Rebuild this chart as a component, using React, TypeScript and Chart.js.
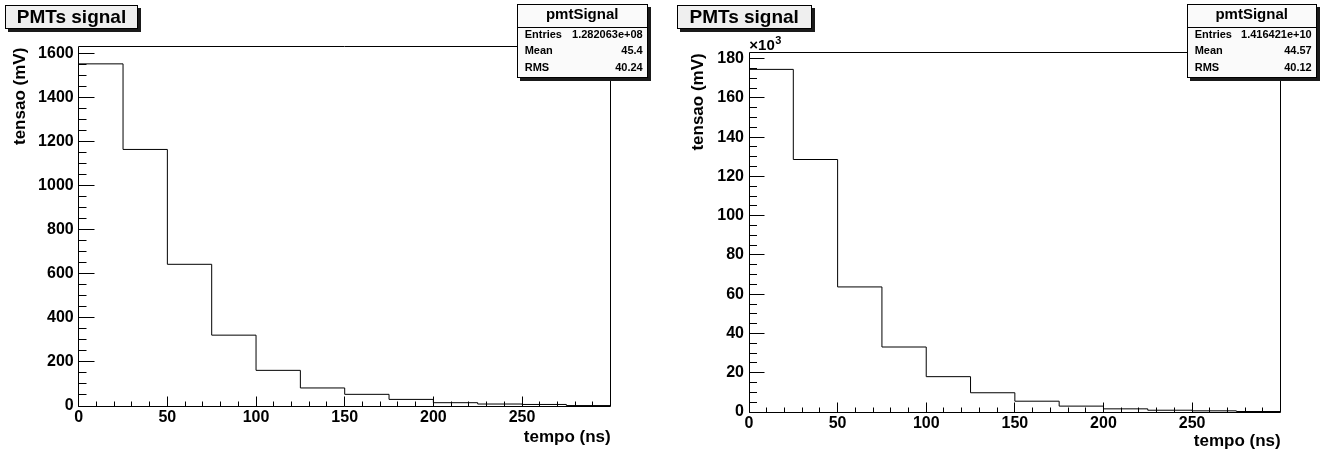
import React, { useEffect, useRef } from "react";
import { Chart, registerables } from "chart.js";

Chart.register(...registerables);

// ---------- data ----------
const binEdges = [0, 25, 50, 75, 100, 125, 150, 175, 200, 225, 250, 275, 300];
const leftValues = [1555, 1166, 644, 322, 162, 82, 53, 30, 15, 9, 7, 2];
// right panel values in units of 10^3 mV
const rightValues = [174.5, 128.6, 63.7, 33.1, 18.0, 9.8, 5.5, 3.0, 1.6, 0.9, 0.6, 0.25];
const xTicks = [0, 50, 100, 150, 200, 250];
const leftYTicks = [0, 200, 400, 600, 800, 1000, 1200, 1400, 1600];
const rightYTicks = [0, 20, 40, 60, 80, 100, 120, 140, 160, 180];
const leftYMax = 1633;
const rightYMax = 183.2;
const xMax = 300;
const histTitle = "PMTs signal";
const statsName = "pmtSignal";
const leftStats = [
  ["Entries", "1.282063e+08"],
  ["Mean", "45.4"],
  ["RMS", "40.24"],
];
const rightStats = [
  ["Entries", "1.416421e+10"],
  ["Mean", "44.57"],
  ["RMS", "40.12"],
];
const xTitle = "tempo (ns)";
const yTitle = "tensao (mV)";

const FONT = '"Liberation Sans", Arial, Helvetica, sans-serif';
const W = 663;
const H = 453;

type PanelCfg = {
  offset: number;
  values: number[];
  yTicks: number[];
  yMax: number;
  yMinor: number;
  stats: string[][];
  area: { l: number; r: number; t: number; b: number };
  yMajorLen: number;
  yMinorLen: number;
  yTitleX: number;
  xTitleY: number;
  titleBox: { x: number; y: number; w: number; h: number };
  statsBox: { x: number; y: number; w: number };
  exponent: boolean;
};

const panels: PanelCfg[] = [
  {
    offset: 0,
    values: leftValues,
    yTicks: leftYTicks,
    yMax: leftYMax,
    yMinor: 50,
    stats: leftStats,
    area: { l: 78.7, r: 610.7, t: 46.7, b: 406 },
    yMajorLen: 16,
    yMinorLen: 8,
    yTitleX: 20,
    xTitleY: 437,
    titleBox: { x: 5, y: 5, w: 133, h: 24 },
    statsBox: { x: 516.7, y: 4, w: 131 },
    exponent: false,
  },
  {
    offset: 663,
    values: rightValues,
    yTicks: rightYTicks,
    yMax: rightYMax,
    yMinor: 5,
    stats: rightStats,
    area: { l: 86, r: 617.7, t: 52.3, b: 412 },
    yMajorLen: 15,
    yMinorLen: 7.5,
    yTitleX: 35,
    xTitleY: 441,
    titleBox: { x: 13.7, y: 5, w: 135, h: 24 },
    statsBox: { x: 523.7, y: 4, w: 130 },
    exponent: true,
  },
];

const snap = (v: number) => Math.floor(v) + 0.5;

function makePlugin(cfg: PanelCfg) {
  return {
    id: "rootFrame",
    afterDraw(chart: any) {
      const { ctx, chartArea: a, scales } = chart;
      const x = scales.x;
      const y = scales.y;
      ctx.save();
      ctx.strokeStyle = "#000";
      ctx.lineWidth = 1;
      const L = snap(a.left);
      const R = snap(a.right);
      const T = snap(a.top);
      const B = snap(a.bottom);
      ctx.beginPath();
      ctx.rect(L, T, R - L, B - T);
      ctx.stroke();

      ctx.beginPath();
      // x ticks
      for (let v = 0; v < xMax; v += 10) {
        const px = snap(x.getPixelForValue(v));
        const len = v % 50 === 0 ? 10 : 5;
        ctx.moveTo(px, B);
        ctx.lineTo(px, B - len);
      }
      // y ticks
      for (let v = 0; v <= cfg.yMax; v += cfg.yMinor) {
        const py = snap(y.getPixelForValue(v));
        const major = cfg.yTicks.includes(v);
        const len = major ? cfg.yMajorLen : cfg.yMinorLen;
        ctx.moveTo(L, py);
        ctx.lineTo(L + len, py);
      }
      ctx.stroke();

      // axis titles
      ctx.fillStyle = "#000";
      ctx.font = `bold 17px ${FONT}`;
      ctx.textAlign = "right";
      ctx.textBaseline = "middle";
      ctx.fillText(xTitle, a.right, cfg.xTitleY);

      ctx.save();
      ctx.translate(cfg.yTitleX, a.top + 1);
      ctx.rotate(-Math.PI / 2);
      ctx.textAlign = "right";
      ctx.textBaseline = "middle";
      ctx.fillText(yTitle, 0, 0);
      ctx.restore();

      if (cfg.exponent) {
        ctx.textAlign = "left";
        ctx.textBaseline = "alphabetic";
        ctx.font = `bold 15px ${FONT}`;
        const sx = a.left + 0.3;
        ctx.fillText("\u00d710", sx, a.top - 2);
        const w = ctx.measureText("\u00d710").width;
        ctx.font = `bold 11px ${FONT}`;
        ctx.fillText("3", sx + w + 0.5, a.top - 8);
      }
      ctx.restore();
    },
  };
}

function Panel({ cfg }: { cfg: PanelCfg }) {
  const ref = useRef<HTMLCanvasElement | null>(null);

  useEffect(() => {
    if (!ref.current) return;
    const pts = binEdges.map((e, i) => ({
      x: e,
      y: i < cfg.values.length ? cfg.values[i] : 0,
    }));
    const tickFont = { family: FONT, size: 16, weight: "bold" as const };
    const chart = new Chart(ref.current, {
      type: "line",
      data: {
        datasets: [
          {
            data: pts,
            stepped: "before",
            borderColor: "#000",
            borderWidth: 1,
            pointRadius: 0,
            fill: false,
          } as any,
        ],
      },
      options: {
        animation: false,
        responsive: false,
        maintainAspectRatio: false,
        devicePixelRatio: 1,
        events: [],
        layout: {
          padding: { left: 0, top: cfg.area.t, right: W - cfg.area.r, bottom: 0 },
        },
        plugins: {
          legend: { display: false },
          tooltip: { enabled: false },
          title: { display: false },
        },
        scales: {
          x: {
            type: "linear",
            min: 0,
            max: xMax,
            grid: { display: false, drawTicks: false },
            border: { display: false },
            afterBuildTicks: (s: any) => {
              s.ticks = xTicks.map((v) => ({ value: v }));
            },
            afterFit: (s: any) => {
              s.height = H - cfg.area.b;
            },
            ticks: {
              color: "#000",
              font: tickFont,
              padding: 2,
              maxRotation: 0,
              autoSkip: false,
              callback: (v: any) => String(v),
            },
          },
          y: {
            type: "linear",
            min: 0,
            max: cfg.yMax,
            grid: { display: false, drawTicks: false },
            border: { display: false },
            afterBuildTicks: (s: any) => {
              s.ticks = cfg.yTicks.map((v) => ({ value: v }));
            },
            afterFit: (s: any) => {
              s.width = cfg.area.l;
            },
            ticks: {
              color: "#000",
              font: tickFont,
              padding: 5,
              autoSkip: false,
              callback: (v: any) => String(v),
            },
          },
        },
      },
      plugins: [makePlugin(cfg)],
    });
    return () => chart.destroy();
  }, [cfg]);

  const tb = cfg.titleBox;
  const sb = cfg.statsBox;
  return (
    <div style={{ position: "absolute", left: cfg.offset, top: 0, width: W, height: H }}>
      <canvas ref={ref} width={W} height={H} style={{ position: "absolute", left: 0, top: 0, width: W, height: H }} />
      <div
        style={{
          position: "absolute",
          left: tb.x,
          top: tb.y,
          width: tb.w,
          height: tb.h,
          boxSizing: "border-box",
          border: "1px solid #000",
          background: "#efefef",
          boxShadow: "3px 3px 0 #1a1a1a",
          font: `bold 19px ${FONT}`,
          lineHeight: `${tb.h - 2}px`,
          textAlign: "center",
          color: "#000",
          whiteSpace: "nowrap",
        }}
      >
        {histTitle}
      </div>
      <div
        style={{
          position: "absolute",
          left: sb.x,
          top: sb.y,
          width: sb.w,
          boxSizing: "border-box",
          border: "1px solid #000",
          background: "#fafafa",
          boxShadow: "3px 3px 0 #1a1a1a",
          color: "#000",
        }}
      >
        <div
          style={{
            height: 21.5,
            lineHeight: "21.5px",
            borderBottom: "1px solid #000",
            textAlign: "center",
            font: `bold 15px ${FONT}`,
          }}
        >
          {statsName}
        </div>
        {cfg.stats.map(([k, v]) => (
          <div
            key={k}
            style={{
              height: 16.5,
              lineHeight: "16.5px",
              display: "flex",
              justifyContent: "space-between",
              padding: "0 4px 0 7px",
              font: `bold 11px ${FONT}`,
            }}
          >
            <span>{k}</span>
            <span>{v}</span>
          </div>
        ))}
      </div>
    </div>
  );
}

export default function App() {
  return (
    <div
      style={{
        position: "absolute",
        left: 0,
        top: 0,
        width: 1326,
        height: 453,
        background: "#fff",
        overflow: "hidden",
      }}
    >
      {panels.map((p) => (
        <Panel key={p.offset} cfg={p} />
      ))}
    </div>
  );
}
